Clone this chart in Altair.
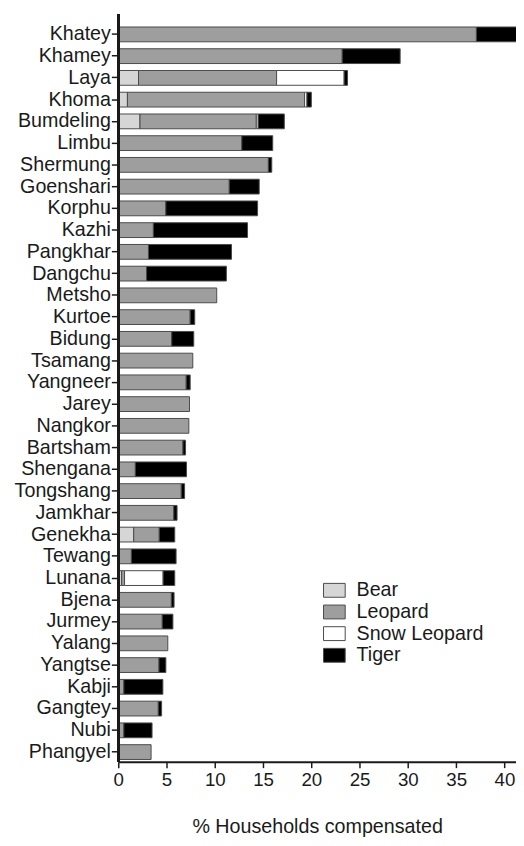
import altair as alt
import pandas as pd

villages = ["Khatey", "Khamey", "Laya", "Khoma", "Bumdeling", "Limbu", "Shermung",
            "Goenshari", "Korphu", "Kazhi", "Pangkhar", "Dangchu", "Metsho", "Kurtoe",
            "Bidung", "Tsamang", "Yangneer", "Jarey", "Nangkor", "Bartsham", "Shengana",
            "Tongshang", "Jamkhar", "Genekha", "Tewang", "Lunana", "Bjena", "Jurmey",
            "Yalang", "Yangtse", "Kabji", "Gangtey", "Nubi", "Phangyel"]

bear = [0, 0, 2.1, 0.95, 2.25, 0, 0, 0, 0, 0, 0, 0, 0, 0, 0, 0, 0, 0, 0, 0, 0,
        0, 0, 1.6, 0, 0.35, 0, 0, 0, 0, 0, 0, 0, 0]
leopard = [37.1, 23.2, 14.3, 18.35, 12.05, 12.8, 15.55, 11.5, 4.93, 3.64, 3.13, 2.93,
           10.2, 7.45, 5.54, 7.72, 7.04, 7.38, 7.31, 6.7, 1.77, 6.53, 5.75, 2.65, 1.36,
           0.3, 5.5, 4.56, 5.13, 4.22, 0.58, 4.15, 0.58, 3.4]
snow_leopard = [0, 0, 7.0, 0.25, 0.2, 0, 0, 0, 0, 0, 0, 0, 0, 0, 0, 0, 0, 0, 0, 0, 0,
                0, 0, 0, 0, 4.0, 0, 0, 0, 0, 0, 0, 0, 0]
tiger = [5.0, 6.0, 0.35, 0.45, 2.7, 3.2, 0.35, 3.1, 9.5, 9.75, 8.6, 8.27, 0, 0.47, 2.28,
         0, 0.41, 0, 0, 0.27, 5.3, 0.34, 0.34, 1.6, 4.63, 1.2, 0.28, 1.1, 0, 0.71, 4.04,
         0.34, 2.92, 0]

species = ["Bear", "Leopard", "Snow Leopard", "Tiger"]
colors = ["#d6d6d6", "#9e9e9e", "#ffffff", "#000000"]
x_ticks = [0, 5, 10, 15, 20, 25, 30, 35, 40]

rows = []
for i, v in enumerate(villages):
    for k, (sp, vals) in enumerate(zip(species, [bear, leopard, snow_leopard, tiger])):
        if vals[i] > 0:
            rows.append({"village": v, "species": sp, "order": k, "value": vals[i]})
df = pd.DataFrame(rows)

FONT = "Liberation Sans"
PLOT_W = 404
PLOT_H = 748.6
TOP = 10.4

bars = alt.Chart(df).mark_bar(stroke="#4a4a4a", strokeWidth=1, clip=True).encode(
    y=alt.Y("village:N", sort=villages,
            scale=alt.Scale(paddingInner=0.32, paddingOuter=0.104),
            axis=alt.Axis(title=None, domain=False, labelFontSize=20, labelFont=FONT,
                          labelColor="#1a1a1a", tickSize=7, tickWidth=1.5,
                          tickColor="#1a1a1a", labelPadding=1)),
    x=alt.X("value:Q", stack="zero",
            scale=alt.Scale(domain=[0, 41.2], nice=False, zero=True),
            axis=alt.Axis(values=x_ticks, grid=False, labelFlush=False,
                          labelFontSize=19, labelFont=FONT, labelColor="#1a1a1a",
                          tickSize=6, tickWidth=1.5, tickColor="#1a1a1a",
                          domainWidth=2, domainColor="#1a1a1a", labelPadding=3,
                          title="% Households compensated", titleFont=FONT,
                          titleFontSize=20, titleFontWeight="normal",
                          titleColor="#1a1a1a", titlePadding=28)),
    color=alt.Color("species:N",
                    scale=alt.Scale(domain=species, range=colors),
                    legend=alt.Legend(orient="none", legendX=208, legendY=563,
                                      title=None, labelFontSize=20, labelFont=FONT,
                                      labelColor="#1a1a1a",
                                      symbolType="M-1,-0.64H1V0.64H-1Z",
                                      symbolSize=484, symbolStrokeColor="#4a4a4a",
                                      symbolStrokeWidth=1, labelOffset=11,
                                      rowPadding=0, padding=0)),
    order=alt.Order("order:Q"),
)

yaxis_line = alt.Chart(df).mark_rule(color="#1a1a1a", strokeWidth=2).encode(
    x=alt.value(0), y=alt.value(-TOP), y2=alt.value(PLOT_H)
)

chart = alt.layer(bars, yaxis_line).properties(
    width=PLOT_W, height=PLOT_H,
    autosize=alt.AutoSizeParams(type="none"),
    padding={"left": 112, "top": TOP, "right": 0, "bottom": 838 - TOP - PLOT_H},
).configure_view(stroke=None)

chart.save("out.html", embed_options={"renderer": "svg", "actions": False})
